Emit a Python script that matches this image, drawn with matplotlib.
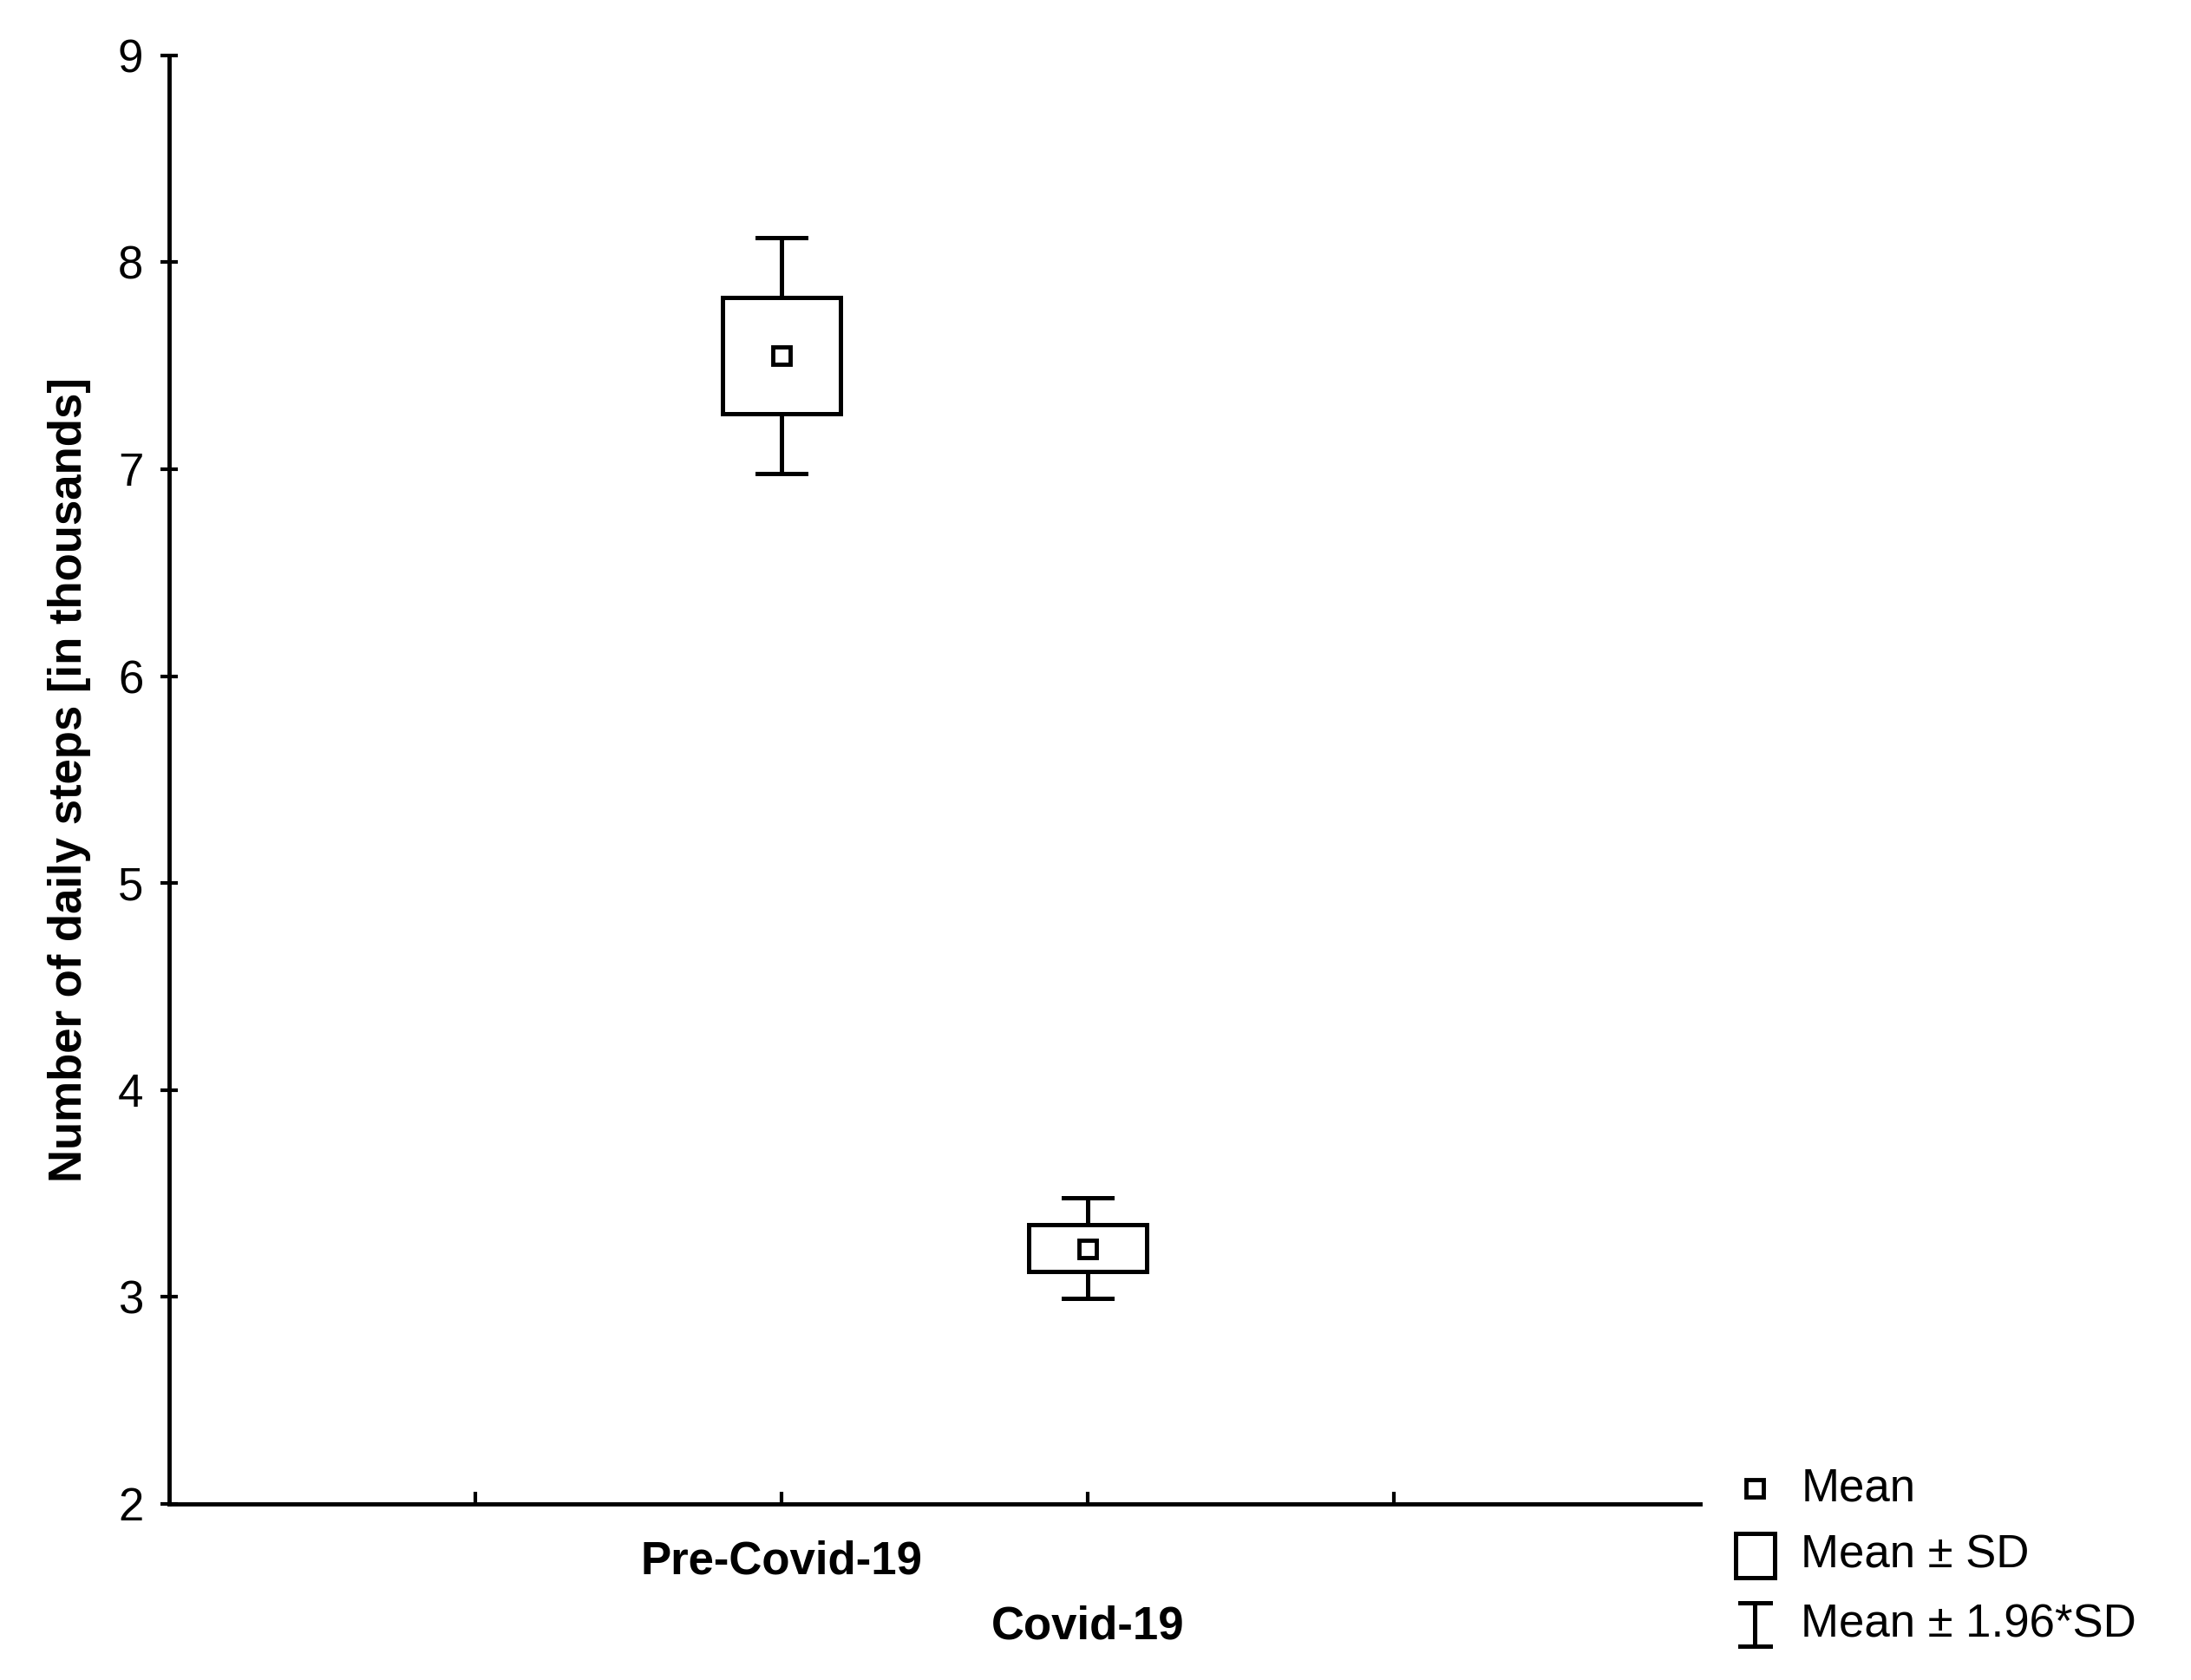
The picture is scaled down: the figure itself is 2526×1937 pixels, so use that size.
import matplotlib.pyplot as plt
from matplotlib.patches import Rectangle
from matplotlib.lines import Line2D

plt.rcParams['font.family'] = ['Liberation Sans', 'DejaVu Sans']

groups = ['Pre-Covid-19', 'Covid-19']
positions = [2, 3]
means = [7.55, 3.23]
sd_low = [7.27, 3.12]
sd_high = [7.83, 3.35]
ci_low = [6.98, 2.99]
ci_high = [8.12, 3.48]

lw = 3.6
fs = 38
fig = plt.figure(figsize=(25.26, 19.37), dpi=100)
ax = fig.add_axes([0.077, 0.105, 0.699, 0.862])

box_w = 0.385
cap_w = 0.16
for x, m, bl, bh, wl, wh in zip(positions, means, sd_low, sd_high, ci_low, ci_high):
    ax.add_patch(Rectangle((x - box_w / 2, bl), box_w, bh - bl, fill=False, lw=lw, ec='black', zorder=3))
    ax.plot([x, x], [bh, wh], color='black', lw=lw)
    ax.plot([x, x], [wl, bl], color='black', lw=lw)
    ax.plot([x - cap_w / 2, x + cap_w / 2], [wh, wh], color='black', lw=lw)
    ax.plot([x - cap_w / 2, x + cap_w / 2], [wl, wl], color='black', lw=lw)
    ax.plot([x], [m], marker='s', ms=14, mfc='white', mec='black', mew=3.5, zorder=4)

ax.set_xlim(0, 5)
ax.set_ylim(2, 9)
ax.set_xticks([1, 2, 3, 4])
ax.set_xticklabels([])
ax.set_yticks(range(2, 10))
ax.spines['top'].set_visible(False)
ax.spines['right'].set_visible(False)
for s in ['left', 'bottom']:
    ax.spines[s].set_linewidth(3.5)
ax.tick_params(axis='x', direction='in', length=10, width=3)
ax.tick_params(axis='y', direction='inout', length=14, width=3, labelsize=fs, pad=14)

ax.text(2, -0.04, groups[0], transform=ax.get_xaxis_transform(), ha='center', va='center',
        fontsize=fs, fontweight='bold')
ax.text(3, -0.085, groups[1], transform=ax.get_xaxis_transform(), ha='center', va='center',
        fontsize=fs, fontweight='bold')
ax.set_ylabel('Number of daily steps [in thousands]', fontsize=fs, fontweight='bold', labelpad=22)

# legend
sx, tx = 0.801, 0.822
ys = [0.114, 0.074, 0.033]
fig.add_artist(Line2D([sx], [ys[0]], marker='s', ms=14, mfc='white', mec='black', mew=3.5,
                      transform=fig.transFigure))
fig.add_artist(Rectangle((sx - 0.009, ys[1] - 0.013), 0.018, 0.026, fill=False, lw=lw,
                         ec='black', transform=fig.transFigure))
fig.add_artist(Line2D([sx, sx], [ys[2] - 0.013, ys[2] + 0.013], color='black', lw=lw,
                      transform=fig.transFigure))
for yy in [ys[2] - 0.013, ys[2] + 0.013]:
    fig.add_artist(Line2D([sx - 0.007, sx + 0.007], [yy, yy], color='black', lw=lw,
                          transform=fig.transFigure))
for y, t in zip(ys, ['Mean', 'Mean ± SD', 'Mean ± 1.96*SD']):
    fig.text(tx, y, t, fontsize=fs, va='center', ha='left')

fig.savefig('out.png', dpi=100)
